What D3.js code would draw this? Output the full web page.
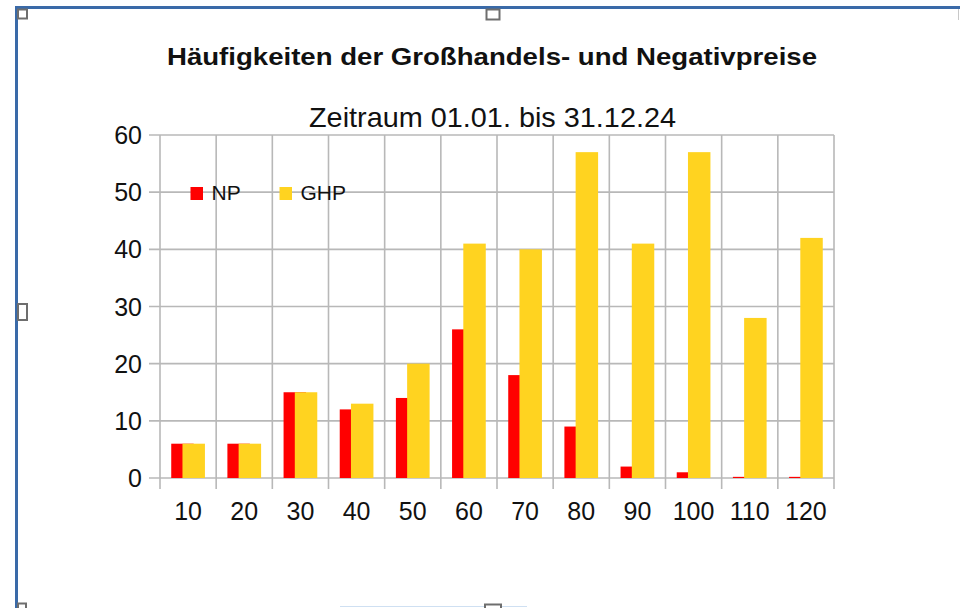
<!DOCTYPE html>
<html>
<head>
<meta charset="utf-8">
<script src="https://cdn.jsdelivr.net/npm/d3@7"></script>
<style>
  html, body { margin: 0; padding: 0; background: #fff; }
  svg { display: block; font-family: 'Liberation Sans', Arial, sans-serif; }
</style>
</head>
<body>
<svg id="chart" width="960" height="608"></svg>
<script>
// categories (x axis)
const categories = ['10', '20', '30', '40', '50', '60', '70', '80', '90', '100', '110', '120'];
// series values
const npValues  = [6, 6, 15, 12, 14, 26, 18, 9, 2, 1, 0.2, 0.2];
const ghpValues = [6, 6, 15, 13, 20, 41, 40, 57, 41, 57, 28, 42];
const seriesNames = ['NP', 'GHP'];
const seriesColors = ['#ff0000', '#ffd320'];
const yTicks = [0, 10, 20, 30, 40, 50, 60];

const titleText = 'Häufigkeiten der Großhandels- und Negativpreise';
const subtitleText = 'Zeitraum 01.01. bis 31.12.24';

const svg = d3.select('#chart');
const width = +svg.attr('width');
const height = +svg.attr('height');

// plot area
const plot = { left: 160, right: 834, top: 135, bottom: 478 };
const gridColor = '#b8b8b8';

const rows = categories.map((c, i) => ({ cat: c, values: [npValues[i], ghpValues[i]] }));

const xScale = d3.scaleBand()
    .domain(categories)
    .range([plot.left, plot.right])
    .paddingInner(0.4)
    .paddingOuter(0.2);

const yScale = d3.scaleLinear()
    .domain([0, 60])
    .range([plot.bottom, plot.top]);

const step = xScale.step();
const bw = xScale.bandwidth();
// two bars overlapping by half
const barW = bw * 2 / 3;

// selection frame around the chart object
svg.append('line')
    .attr('x1', 16.5).attr('x2', 16.5).attr('y1', 6).attr('y2', height)
    .attr('stroke', '#3a6aa8').attr('stroke-width', 3);
svg.append('line')
    .attr('x1', 15).attr('x2', width).attr('y1', 7.5).attr('y2', 7.5)
    .attr('stroke', '#3a6aa8').attr('stroke-width', 3);
svg.append('line')
    .attr('x1', 958.5).attr('x2', 958.5).attr('y1', 9).attr('y2', 20)
    .attr('stroke', '#c8c8c8').attr('stroke-width', 1);
svg.append('line')
    .attr('x1', 340).attr('x2', 527).attr('y1', 606.5).attr('y2', 606.5)
    .attr('stroke', '#cfe0f2').attr('stroke-width', 1);

// handles
const handles = [
    { x: 18, y: 9.5, w: 9, h: 9 },
    { x: 486.5, y: 9.5, w: 13, h: 10 },
    { x: 18, y: 304, w: 9, h: 16 },
    { x: 485, y: 604.5, w: 16, h: 8 },
    { x: 18, y: 603.5, w: 8, h: 8 }
];
svg.append('g')
    .selectAll('rect')
    .data(handles)
    .join('rect')
    .attr('x', d => d.x).attr('y', d => d.y)
    .attr('width', d => d.w).attr('height', d => d.h)
    .attr('fill', '#fff')
    .attr('stroke', '#6e6e6e')
    .attr('stroke-width', 2);

// titles
svg.append('text')
    .attr('x', 492).attr('y', 64.5)
    .attr('text-anchor', 'middle')
    .attr('font-size', 24)
    .attr('font-weight', 'bold')
    .attr('textLength', 650)
    .attr('lengthAdjust', 'spacingAndGlyphs')
    .attr('fill', '#111')
    .text(titleText);

svg.append('text')
    .attr('x', 492.5).attr('y', 127)
    .attr('text-anchor', 'middle')
    .attr('font-size', 28)
    .attr('textLength', 367)
    .attr('lengthAdjust', 'spacingAndGlyphs')
    .attr('fill', '#111')
    .text(subtitleText);

const g = svg.append('g');

// horizontal gridlines
g.append('g')
    .selectAll('line')
    .data(yTicks)
    .join('line')
    .attr('x1', plot.left - 11).attr('x2', plot.right)
    .attr('y1', d => yScale(d)).attr('y2', d => yScale(d))
    .attr('stroke', gridColor).attr('stroke-width', 1.6);

// vertical gridlines at category boundaries, with ticks below the axis
const bounds = d3.range(categories.length + 1).map(i => plot.left + i * step);
g.append('g')
    .selectAll('line')
    .data(bounds)
    .join('line')
    .attr('x1', d => d).attr('x2', d => d)
    .attr('y1', plot.top).attr('y2', plot.bottom + 11)
    .attr('stroke', gridColor).attr('stroke-width', 1.6);

// y tick labels
g.append('g')
    .selectAll('text')
    .data(yTicks)
    .join('text')
    .attr('x', plot.left - 18)
    .attr('y', d => yScale(d) + 9)
    .attr('text-anchor', 'end')
    .attr('font-size', 25)
    .attr('fill', '#111')
    .text(d => d);

// x tick labels
g.append('g')
    .selectAll('text')
    .data(categories)
    .join('text')
    .attr('x', d => xScale(d) + bw / 2)
    .attr('y', 520)
    .attr('text-anchor', 'middle')
    .attr('font-size', 25)
    .attr('fill', '#111')
    .text(d => d);

// bars: NP first, GHP drawn over it
seriesNames.forEach((name, si) => {
    g.append('g')
        .attr('fill', seriesColors[si])
        .selectAll('rect')
        .data(rows)
        .join('rect')
        .attr('x', d => xScale(d.cat) + si * (bw - barW))
        .attr('width', barW)
        .attr('y', d => yScale(d.values[si]))
        .attr('height', d => Math.max(1, plot.bottom - yScale(d.values[si])));
});

// legend
const legend = svg.append('g');
const legendItems = [
    { name: seriesNames[0], color: seriesColors[0], x: 190.5 },
    { name: seriesNames[1], color: seriesColors[1], x: 279.5 }
];
const li = legend.selectAll('g')
    .data(legendItems)
    .join('g')
    .attr('transform', d => `translate(${d.x}, 187)`);
li.append('rect')
    .attr('width', 12.5).attr('height', 13)
    .attr('fill', d => d.color);
li.append('text')
    .attr('x', 21).attr('y', 13)
    .attr('font-size', 21)
    .attr('fill', '#111')
    .text(d => d.name);
</script>
</body>
</html>
